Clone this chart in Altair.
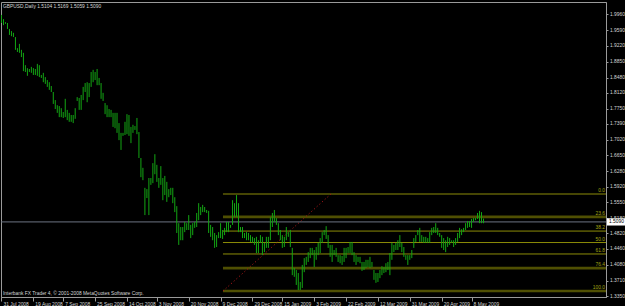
import altair as alt
import pandas as pd

# ---- data (GBPUSD daily bars) ----
highs = [
    1.995, 1.985, 1.978, 1.976, 1.962, 1.957, 1.953, 1.943, 1.917, 1.927,
    1.913, 1.906, 1.877, 1.870, 1.868, 1.873, 1.870, 1.868, 1.880, 1.877,
    1.854, 1.859, 1.849, 1.842, 1.837, 1.828, 1.814, 1.795, 1.783, 1.781,
    1.776, 1.767, 1.798, 1.772, 1.765, 1.760, 1.760, 1.776, 1.802, 1.800,
    1.807, 1.826, 1.835, 1.837, 1.835, 1.861, 1.866, 1.861, 1.868, 1.847,
    1.835, 1.812, 1.788, 1.783, 1.774, 1.772, 1.765, 1.765, 1.765, 1.741,
    1.718, 1.718, 1.744, 1.762, 1.760, 1.732, 1.737, 1.734, 1.753, 1.720,
    1.659, 1.636, 1.589, 1.586, 1.612, 1.612, 1.647, 1.668, 1.643, 1.612,
    1.640, 1.612, 1.617, 1.603, 1.586, 1.589, 1.589, 1.567, 1.546, 1.506,
    1.497, 1.497, 1.509, 1.506, 1.525, 1.502, 1.506, 1.509, 1.530, 1.553,
    1.544, 1.549, 1.544, 1.537, 1.535, 1.502, 1.497, 1.483, 1.478, 1.485,
    1.506, 1.490, 1.495, 1.509, 1.509, 1.502, 1.560, 1.553, 1.572, 1.553,
    1.497, 1.497, 1.483, 1.485, 1.483, 1.478, 1.474, 1.471, 1.474, 1.466,
    1.478, 1.474, 1.460, 1.474, 1.474, 1.520, 1.530, 1.537, 1.518, 1.506,
    1.490, 1.478, 1.474, 1.497, 1.485, 1.490, 1.448, 1.401, 1.396, 1.389,
    1.368,
    1.408, 1.424, 1.427, 1.438, 1.448, 1.448, 1.443, 1.450, 1.460, 1.471,
    1.485, 1.490, 1.499, 1.478, 1.455, 1.455, 1.443, 1.448, 1.431, 1.431,
    1.429, 1.448, 1.448, 1.450, 1.462, 1.462, 1.438, 1.431, 1.427, 1.427,
    1.415, 1.415, 1.420, 1.420, 1.427, 1.415, 1.396, 1.389, 1.389, 1.396,
    1.405, 1.403, 1.412, 1.415, 1.436, 1.460, 1.455, 1.460, 1.466, 1.478,
    1.460, 1.450, 1.431, 1.431, 1.431, 1.443, 1.471, 1.478, 1.490, 1.495,
    1.478, 1.474, 1.474, 1.471, 1.485, 1.495, 1.497, 1.506, 1.495, 1.483,
    1.478, 1.471, 1.466, 1.474, 1.471, 1.466, 1.466, 1.471, 1.483, 1.495,
    1.492, 1.495, 1.506, 1.511, 1.511, 1.516, 1.518, 1.518, 1.530, 1.535,
    1.532, 1.5169,
]
lows = [
    1.976, 1.971, 1.974, 1.962, 1.948, 1.945, 1.943, 1.913, 1.908, 1.906,
    1.896, 1.863, 1.861, 1.852, 1.861, 1.859, 1.854, 1.854, 1.852, 1.849,
    1.847, 1.837, 1.833, 1.826, 1.819, 1.814, 1.786, 1.774, 1.765, 1.755,
    1.755, 1.753, 1.755, 1.748, 1.744, 1.744, 1.741, 1.751, 1.793, 1.772,
    1.772, 1.795, 1.814, 1.790, 1.802, 1.826, 1.837, 1.842, 1.830, 1.830,
    1.798, 1.793, 1.762, 1.755, 1.755, 1.755, 1.732, 1.729, 1.718, 1.701,
    1.678, 1.711, 1.713, 1.715, 1.711, 1.694, 1.718, 1.725, 1.715, 1.659,
    1.614, 1.607, 1.525, 1.565, 1.525, 1.596, 1.600, 1.621, 1.603, 1.589,
    1.596, 1.560, 1.572, 1.556, 1.567, 1.572, 1.553, 1.532, 1.483, 1.455,
    1.466, 1.466, 1.485, 1.490, 1.490, 1.471, 1.478, 1.495, 1.497, 1.513,
    1.525, 1.532, 1.532, 1.530, 1.483, 1.474, 1.466, 1.448, 1.450, 1.471,
    1.471, 1.469, 1.478, 1.485, 1.485, 1.495, 1.502, 1.520, 1.520, 1.485,
    1.485, 1.471, 1.471, 1.466, 1.466, 1.462, 1.460, 1.455, 1.436, 1.436,
    1.460, 1.431, 1.438, 1.448, 1.448, 1.466, 1.497, 1.509, 1.502, 1.478,
    1.466, 1.448, 1.450, 1.466, 1.474, 1.450, 1.384, 1.380, 1.361, 1.349,
    1.349,
    1.354, 1.391, 1.408, 1.415, 1.424, 1.431, 1.403, 1.420, 1.431, 1.436,
    1.460, 1.478, 1.469, 1.448, 1.427, 1.415, 1.431, 1.427, 1.415, 1.412,
    1.408, 1.415, 1.424, 1.436, 1.436, 1.431, 1.415, 1.408, 1.415, 1.412,
    1.394, 1.396, 1.401, 1.403, 1.401, 1.403, 1.373, 1.366, 1.368, 1.377,
    1.384, 1.389, 1.391, 1.396, 1.384, 1.420, 1.438, 1.443, 1.443, 1.450,
    1.438, 1.427, 1.420, 1.408, 1.420, 1.424, 1.448, 1.462, 1.478, 1.462,
    1.462, 1.460, 1.460, 1.460, 1.460, 1.478, 1.483, 1.483, 1.478, 1.474,
    1.448, 1.443, 1.438, 1.450, 1.455, 1.460, 1.450, 1.455, 1.462, 1.471,
    1.478, 1.485, 1.490, 1.495, 1.497, 1.495, 1.509, 1.513, 1.516, 1.506,
    1.506, 1.5059,
]

date_idx = [0, 16, 31, 47, 63, 78, 94, 110, 126, 141, 157, 173, 189, 205, 221, 236]
date_labels = ["31 Jul 2008", "19 Aug 2008", "7 Sep 2008", "25 Sep 2008",
               "14 Oct 2008", "3 Nov 2008", "20 Nov 2008", "9 Dec 2008",
               "29 Dec 2008", "15 Jan 2009", "3 Feb 2009", "22 Feb 2009",
               "12 Mar 2009", "31 Mar 2009", "20 Apr 2009", "8 May 2009"]
price_ticks = [1.9960, 1.9590, 1.9220, 1.8850, 1.8480, 1.8120, 1.7750, 1.7390,
               1.7020, 1.6650, 1.6280, 1.5920, 1.5550, 1.5180, 1.4820, 1.4460,
               1.4080, 1.3710, 1.3350]

fib_levels = [0.0, 23.6, 38.2, 50.0, 61.8, 76.4, 100.0]
fib_high = 1.5745
fib_low = 1.3467
fib_anchor_idx = [111.2, 165.4]      # bar positions of the two fibo anchors
last_bar = {"open": 1.5104, "high": 1.5169, "low": 1.5059, "close": 1.5090}

# ---- tables ----
bars = pd.DataFrame({"i": list(range(len(highs))), "high": highs, "low": lows})
fib = pd.DataFrame({
    "level": fib_levels,
    "price": [fib_high - lv / 100.0 * (fib_high - fib_low) for lv in fib_levels],
    "label": [f"{lv:.1f}" for lv in fib_levels],
    "x0": [fib_anchor_idx[0]] * len(fib_levels),
})
diag = pd.DataFrame({"i": fib_anchor_idx, "p": [fib_low, fib_high]})
cur = pd.DataFrame({"close": [last_bar["close"]],
                    "top": [last_bar["close"] + 0.0085],
                    "bot": [last_bar["close"] - 0.0085],
                    "txt": [f"{last_bar['close']:.4f}"]})
notes = pd.DataFrame({"t": ["x"]})

FONT = "Liberation Sans"
FS = 4.9
LBL = "#d6d6d6"
AX = "#9a9a9a"

label_js = "[" + ",".join(f"'{s}'" for s in date_labels) + "]"
idx_js = "[" + ",".join(str(v) for v in date_idx) + "]"

xs = alt.Scale(domain=[-0.25, 303.5], nice=False, zero=False)
ys = alt.Scale(domain=[1.3327, 2.0253], nice=False, zero=False)
xaxis = alt.Axis(values=date_idx, labelExpr=f"{label_js}[indexof({idx_js}, datum.value)]",
                 orient="bottom", title=None, grid=False, labelAlign="left",
                 labelBaseline="top", labelPadding=0.5, labelOffset=1.5,
                 tickSize=4, labelFontSize=FS, labelFont=FONT, labelColor=LBL,
                 tickColor=AX, domainColor=AX, labelOverlap=False, labelFlush=False,
                 labelBound=False)
yaxis = alt.Axis(values=price_ticks, format=".4f", orient="right", title=None,
                 grid=False, tickSize=2, labelPadding=1.5, labelFontSize=FS,
                 labelFont=FONT, labelColor=LBL, tickColor=AX, domainColor=AX,
                 labelOverlap=False, labelFlush=False, labelBaseline="middle",
                 labelBound=False)

bar_layer = alt.Chart(bars).mark_rule(color="#13a613", strokeWidth=1).encode(
    x=alt.X("i:Q", scale=xs, axis=xaxis),
    y=alt.Y("low:Q", scale=ys, axis=yaxis),
    y2="high:Q",
)

thick = "datum.level == 23.6 || datum.level == 76.4 || datum.level == 100"
fib_lines = alt.Chart(fib).mark_rule().encode(
    x=alt.X("x0:Q", scale=xs, axis=xaxis),
    x2=alt.value(605),
    y=alt.Y("price:Q", scale=ys, axis=yaxis),
    color=alt.condition(thick, alt.value("#4f4f02"), alt.value("#8c8c08")),
    strokeWidth=alt.condition(thick, alt.value(2.6), alt.value(1)),
)
fib_text = alt.Chart(fib).mark_text(align="right", baseline="bottom", dy=-1,
                                    fontSize=FS, font=FONT, color="#a3a312").encode(
    x=alt.value(604),
    y=alt.Y("price:Q", scale=ys, axis=yaxis),
    text="label:N",
)
diag_line = alt.Chart(diag).mark_line(color="#a81818", strokeWidth=1,
                                      strokeDash=[1.2, 2.4]).encode(
    x=alt.X("i:Q", scale=xs, axis=xaxis),
    y=alt.Y("p:Q", scale=ys, axis=yaxis),
)
price_line = alt.Chart(cur).mark_rule(color="#6c7382", strokeWidth=1).encode(
    y=alt.Y("close:Q", scale=ys, axis=yaxis),
)
price_box = alt.Chart(cur).mark_rect(color="#ffffff").encode(
    x=alt.value(606), x2=alt.value(624),
    y=alt.Y("top:Q", scale=ys, axis=yaxis), y2="bot:Q",
)
price_txt = alt.Chart(cur).mark_text(align="left", baseline="middle", fontSize=FS,
                                     font=FONT, color="#000000").encode(
    x=alt.value(608), y=alt.Y("close:Q", scale=ys, axis=yaxis), text="txt:N",
)
title_txt = alt.Chart(notes).mark_text(
    align="left", baseline="top", fontSize=FS, font=FONT, color=LBL,
    text="GBPUSD,Daily  " + "  ".join(f"{last_bar[k]:.4f}" for k in ["open", "high", "low", "close"]),
).encode(x=alt.value(2), y=alt.value(1.5))
copy_txt = alt.Chart(notes).mark_text(
    align="left", baseline="middle", fontSize=FS, font=FONT, color=LBL,
    text="Interbank FX Trader 4, © 2001-2008 MetaQuotes Software Corp.",
).encode(x=alt.value(2), y=alt.value(292))

chart = alt.layer(
    fib_lines, diag_line, price_line, bar_layer, fib_text,
    price_box, price_txt, title_txt, copy_txt,
).properties(
    width=605, height=295,
    padding={"left": 1, "top": 2, "right": 19, "bottom": 9},
    autosize=alt.AutoSizeParams(type="none"),
    background="#000000",
).configure_view(stroke=AX, strokeWidth=1, fill="#000000")

chart.save("out.html", embed_options={"renderer": "svg", "actions": False})
